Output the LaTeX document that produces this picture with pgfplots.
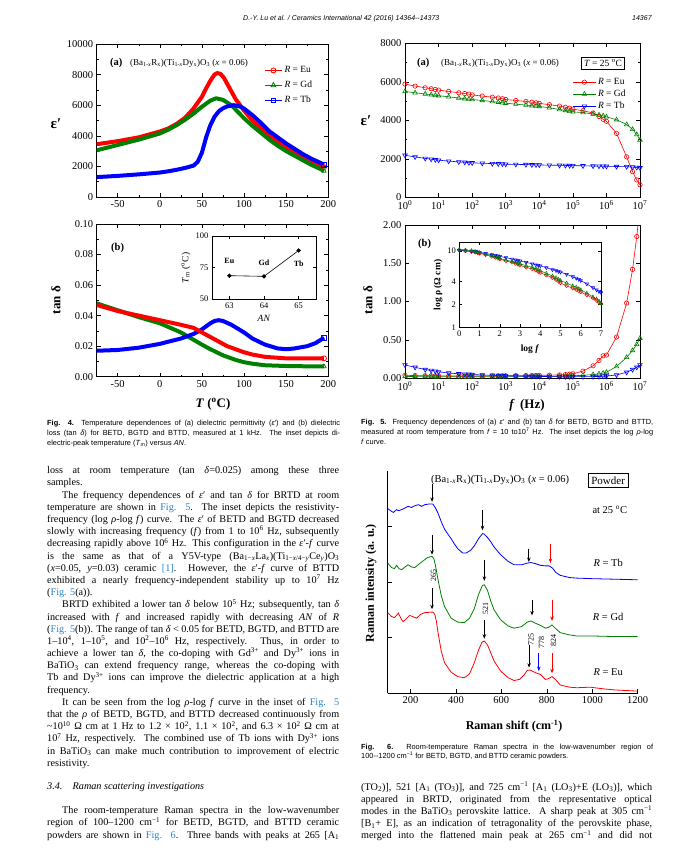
\documentclass[border=0pt]{standalone}
\usepackage{fontspec}
\setmainfont{Liberation Serif}
\newfontfamily\capfont{Liberation Sans}
\usepackage{pgfplots}
\pgfplotsset{compat=1.18}
\usepackage{pgfplotstable}
\usetikzlibrary{arrows.meta}

\definecolor{linkblue}{RGB}{40,130,200}
\definecolor{dgreen}{RGB}{0,128,0}

\newcommand{\body}{\fontsize{10.2}{11}\selectfont}
\newcommand{\capf}{\capfont\fontsize{7.4}{8}\selectfont}
\newcommand{\tickf}{\fontsize{10.5}{10.5}\selectfont}
\newcommand{\TJ}[4]{\node[anchor=base west,inner sep=0pt] at (#1pt,-#2pt) {\hbox to #3pt{#4}};}
\newcommand{\TL}[3]{\node[anchor=base west,inner sep=0pt] at (#1pt,-#2pt) {#3};}
\newcommand{\formula}{(Ba\textsubscript{1-\textit{x}}R\textsubscript{x})(Ti\textsubscript{1-\textit{x}}Dy\textsubscript{x})O\textsubscript{3} (\textit{x} = 0.06)}

\pgfplotsset{
  pagefig/.style={scale only axis, tick align=inside,
    major tick length=4pt, minor tick length=2pt,
    every tick/.style={black, line width=0.5pt},
    axis line style={line width=0.7pt},
    tick label style={font=\tickf},
    scaled ticks=false,
    /pgf/number format/assume math mode=true,
    /pgf/number format/1000 sep={}},
  fat/.style={line width=4pt, line join=round, mark options={solid, fill=white, line width=0.8pt}, mark size=2.5pt},
  thin/.style={line width=0.6pt, mark size=2.2pt, mark options={solid, fill=white, line width=0.6pt}},
}

% Fig. 5 data
\pgfplotstableread{
f     eu    gd    tb
1     5880  5500  2180
2     5780  5430  2100
4     5690  5370  2020
6     5640  5330  1980
8     5600  5300  1950
10    5570  5280  1930
20    5500  5220  1880
40    5430  5160  1840
60    5390  5120  1820
80    5360  5100  1800
100   5320  5080  1790
200   5260  5030  1770
400   5200  4970  1750
600   5160  4940  1740
800   5120  4910  1730
1e3   5080  4890  1720
2e3   5030  4840  1710
4e3   4980  4790  1700
6e3   4940  4760  1690
8e3   4910  4740  1685
1e4   4880  4720  1680
2e4   4810  4650  1670
4e4   4740  4560  1660
6e4   4680  4510  1655
8e4   4630  4470  1650
1e5   4580  4440  1645
2e5   4500  4400  1635
4e5   4380  4330  1625
6e5   4200  4280  1620
8e5   4050  4230  1615
1e6   3950  4180  1610
2e6   3320  4030  1600
4e6   2100  3780  1590
6e6   1330  3530  1570
8e6   900   3260  1550
1e7   650   2980  1530
}\epsf

\pgfplotstableread{
f     eu     gd     tb
1     0.035  0.020  0.170
2     0.032  0.019  0.140
4     0.030  0.018  0.110
6     0.030  0.018  0.100
8     0.029  0.017  0.090
10    0.028  0.017  0.080
20    0.027  0.016  0.065
40    0.026  0.016  0.055
60    0.026  0.016  0.050
80    0.026  0.016  0.048
100   0.026  0.016  0.045
200   0.027  0.016  0.040
400   0.028  0.016  0.035
600   0.029  0.017  0.032
800   0.030  0.017  0.030
1e3   0.030  0.017  0.028
2e3   0.031  0.018  0.025
4e3   0.032  0.018  0.023
6e3   0.033  0.019  0.022
8e3   0.034  0.019  0.021
1e4   0.035  0.020  0.020
2e4   0.037  0.021  0.019
4e4   0.040  0.023  0.019
6e4   0.045  0.025  0.018
8e4   0.050  0.027  0.018
1e5   0.055  0.030  0.018
2e5   0.090  0.035  0.018
4e5   0.160  0.045  0.019
6e5   0.230  0.055  0.020
8e5   0.290  0.065  0.022
1e6   0.300  0.075  0.025
2e6   0.535  0.150  0.040
4e6   0.980  0.270  0.075
6e6   1.420  0.360  0.110
8e6   1.850  0.440  0.140
1e7   2.250  0.520  0.170
}\tanf

\pgfplotstableread{
lf     eu     gd     tb
0      10.3   10.5   10.2
0.301  10.0   10.3   10.1
0.602  9.8    10.1   9.95
0.778  9.6    9.9    9.85
0.903  9.45   9.7    9.7
1      9.3    9.5    9.6
1.301  8.9    9.1    9.3
1.602  8.5    8.7    8.95
1.778  8.2    8.4    8.75
1.903  8.0    8.2    8.6
2      7.8    8.0    8.5
2.301  7.4    7.6    8.2
2.602  7.1    7.3    7.85
2.778  6.85   7.1    7.65
2.903  6.65   6.9    7.5
3      6.5    6.8    7.4
3.301  6.1    6.4    7.1
3.602  5.8    6.1    6.8
3.778  5.6    5.9    6.6
3.903  5.35   5.7    6.5
4      5.2    5.5    6.4
4.301  4.8    5.1    6.05
4.602  4.45   4.7    5.7
4.778  4.2    4.45   5.55
4.903  4.0    4.25   5.4
5      3.8    4.1    5.3
5.301  3.5    3.8    4.95
5.602  3.25   3.5    4.6
5.778  3.1    3.35   4.4
5.903  3.0    3.2    4.25
6      2.9    3.1    4.1
6.301  2.65   2.8    3.7
6.602  2.4    2.5    3.3
6.778  2.25   2.35   3.1
6.903  2.12   2.2    2.95
7      2.05   2.05   2.85
}\rhof

\begin{document}
\begin{tikzpicture}
\path[use as bounding box] (0pt,0pt) rectangle (688pt,-861pt);

% running head
\node[anchor=base west,inner sep=0pt,font=\capfont\itshape\fontsize{7}{8}\selectfont] at (243pt,-21pt) {D.-Y. Lu et al. / Ceramics International 42 (2016) 14364--14373};
\node[anchor=base west,inner sep=0pt,font=\capfont\itshape\fontsize{7}{8}\selectfont] at (632pt,-21pt) {14367};

% ---------- Fig. 4(a)
\begin{axis}[pagefig, at={(96.7pt,-197pt)}, anchor=south west, width=231.5pt, height=153pt,
  xmin=-75, xmax=200, ymin=0, ymax=10000,
  xtick={-50,0,50,100,150,200}, ytick={0,2000,4000,6000,8000,10000},
  minor x tick num=1, minor y tick num=1,
  legend style={at={(0.71,0.88)}, anchor=north west, draw=none, fill=none,
    font=\fontsize{9.5}{9.5}\selectfont, row sep=3pt}, legend cell align=left]
\addlegendimage{red, line width=1.2pt, mark=o, mark size=2.5pt, mark options={fill=white, line width=0.8pt}}
\addlegendentry{\textit{R} = Eu}
\addlegendimage{dgreen, line width=1.2pt, mark=triangle, mark size=2.8pt, mark options={fill=white, line width=0.8pt}}
\addlegendentry{\textit{R} = Gd}
\addlegendimage{blue, line width=1.2pt, mark=square, mark size=2.3pt, mark options={fill=white, line width=0.8pt}}
\addlegendentry{\textit{R} = Tb}
\addplot[red, fat, mark=o, mark indices={29}, forget plot] coordinates {
(-75,3450)(-50,3650)(-25,3900)(0,4280)(10,4480)(20,4780)(30,5180)(40,5780)(50,6550)(55,7100)
(60,7600)(65,8000)(68,8100)(72,8050)(76,7800)(80,7400)(85,6900)(90,6400)(100,5650)(110,5000)
(120,4500)(130,4050)(140,3600)(150,3250)(160,2950)(170,2650)(180,2350)(190,2100)(195,1950)};
\addplot[dgreen, fat, mark=triangle, mark indices={24}, forget plot] coordinates {
(-75,3050)(-50,3400)(-25,3750)(0,4150)(10,4400)(20,4700)(30,5050)(40,5450)(50,5900)(60,6300)
(67,6450)(75,6350)(85,6000)(100,5150)(110,4650)(120,4200)(130,3750)(140,3350)(150,3000)(160,2700)
(170,2400)(180,2100)(190,1850)(195,1700)};
\addplot[blue, fat, mark=square, mark indices={29}, forget plot] coordinates {
(-75,1300)(-50,1380)(-25,1480)(0,1600)(10,1680)(20,1780)(30,1900)(40,2050)(45,2300)(50,2900)
(55,3900)(60,4700)(65,5250)(70,5600)(75,5800)(80,5920)(88,6000)(95,5920)(100,5780)(110,5350)
(120,4850)(130,4300)(140,3900)(150,3500)(160,3150)(170,2800)(180,2500)(190,2250)(195,2120)};
\end{axis}
\node[anchor=base west,font=\bfseries\fontsize{10.5}{11}\selectfont,inner sep=0pt] at (110pt,-66pt) {(a)};
\node[anchor=base west,font=\fontsize{9}{10}\selectfont,inner sep=0pt] at (130pt,-66pt) {\formula};
\node[font=\bfseries\fontsize{15}{15}\selectfont] at (56pt,-124pt) {ε′};

% ---------- Fig. 4(b)
\begin{axis}[pagefig, at={(96.7pt,-376.7pt)}, anchor=south west, width=231.5pt, height=152.7pt,
  xmin=-75, xmax=200, ymin=0, ymax=0.10,
  xtick={-50,0,50,100,150,200}, ytick={0,0.02,0.04,0.06,0.08,0.10},
  minor x tick num=1, minor y tick num=1,
  yticklabel style={/pgf/number format/.cd, fixed, fixed zerofill, precision=2}]
\addplot[dgreen, fat, mark=triangle, mark indices={15}] coordinates {
(-75,0.048)(-50,0.0435)(-25,0.039)(0,0.035)(25,0.029)(50,0.021)(60,0.018)(75,0.014)(90,0.011)
(100,0.0095)(110,0.0085)(125,0.0075)(150,0.007)(175,0.0068)(195,0.0067)};
\addplot[blue, fat, mark=square, mark indices={21}] coordinates {
(-75,0.017)(-50,0.0175)(-25,0.019)(0,0.0215)(25,0.025)(40,0.028)(50,0.031)(60,0.035)(65,0.0365)
(70,0.037)(75,0.0365)(85,0.034)(100,0.029)(110,0.025)(125,0.021)(140,0.0185)(150,0.018)
(160,0.0185)(175,0.020)(185,0.022)(195,0.0255)};
\addplot[red, fat, mark=o, mark indices={17}] coordinates {
(-75,0.047)(-50,0.043)(-25,0.040)(0,0.037)(25,0.034)(40,0.032)(50,0.029)(60,0.026)(70,0.023)
(80,0.020)(90,0.018)(100,0.016)(110,0.0145)(125,0.013)(150,0.012)(175,0.012)(195,0.012)};
\end{axis}
\node[anchor=base west,font=\bfseries\fontsize{10.5}{11}\selectfont,inner sep=0pt] at (111pt,-250pt) {(b)};
\node[font=\bfseries\fontsize{13}{13}\selectfont, rotate=90] at (56pt,-300pt) {tan δ};
\node[font=\bfseries\fontsize{13}{13}\selectfont] at (213pt,-404pt) {\textit{T} (\textsuperscript{o}C)};

% inset of Fig. 4(b)
\begin{axis}[pagefig, at={(212pt,-299pt)}, anchor=south west, width=104pt, height=63pt,
  axis background/.style={fill=white},
  xmin=62.5, xmax=65.5, ymin=50, ymax=100, xtick={63,64,65}, ytick={50,75,100},
  major tick length=3pt, tick label style={font=\fontsize{8.5}{9}\selectfont}]
\addplot[black, line width=0.6pt, mark=*, mark size=1.8pt] coordinates {(63,68.5)(64,68)(65,88.5)};
\node[font=\bfseries\fontsize{8}{8}\selectfont] at (axis cs:63,80) {Eu};
\node[font=\bfseries\fontsize{8}{8}\selectfont] at (axis cs:64,79) {Gd};
\node[font=\bfseries\fontsize{8}{8}\selectfont] at (axis cs:65,78) {Tb};
\end{axis}
\node[font=\fontsize{9.5}{10}\selectfont, rotate=90] at (186pt,-268pt) {\textit{T}\textsubscript{m} (\textsuperscript{o}C)};
\node[font=\fontsize{9.5}{10}\selectfont] at (264pt,-318pt) {\textit{AN}};

% ---------- Fig. 5(a)
\begin{axis}[pagefig, at={(405pt,-197.3pt)}, anchor=south west, width=235pt, height=154pt,
  xmode=log, xmin=1, xmax=1e7, ymin=0, ymax=8000,
  xtick={1,10,100,1000,10000,100000,1000000,10000000},
  xticklabels={10\textsuperscript{0},10\textsuperscript{1},10\textsuperscript{2},10\textsuperscript{3},10\textsuperscript{4},10\textsuperscript{5},10\textsuperscript{6},10\textsuperscript{7}},
  xminorticks=false, ytick={0,2000,4000,6000,8000}, minor y tick num=1,
  legend style={at={(0.70,0.80)}, anchor=north west, draw=none, fill=none,
    font=\fontsize{9.5}{9.5}\selectfont, row sep=0pt}, legend cell align=left,
  legend image code/.code={\draw[mark repeat=2,mark phase=2,#1] plot coordinates {(0cm,0cm) (0.4cm,0cm) (0.8cm,0cm)};}]
\addplot[red, thin, mark=o] table[x=f, y=eu] {\epsf};
\addlegendentry{\textit{R} = Eu}
\addplot[dgreen, thin, mark=triangle, mark size=2.6pt] table[x=f, y=gd] {\epsf};
\addlegendentry{\textit{R} = Gd}
\addplot[blue, thin, mark=triangle, mark size=2.6pt, mark options={rotate=180}] table[x=f, y=tb] {\epsf};
\addlegendentry{\textit{R} = Tb}
\end{axis}
\node[anchor=base west,font=\bfseries\fontsize{10.5}{11}\selectfont,inner sep=0pt] at (417pt,-66pt) {(a)};
\node[anchor=base west,font=\fontsize{9}{10}\selectfont,inner sep=0pt] at (441pt,-66pt) {\formula};
\node[draw, line width=0.9pt, inner sep=2.5pt, font=\fontsize{9.5}{10}\selectfont] at (603pt,-63pt) {\textit{T} = 25 \textsuperscript{o}C};
\node[font=\bfseries\fontsize{15}{15}\selectfont] at (366pt,-121pt) {ε′};

% ---------- Fig. 5(b)
\begin{axis}[pagefig, at={(405pt,-378pt)}, anchor=south west, width=235pt, height=153pt,
  xmode=log, xmin=1, xmax=1e7, ymin=0, ymax=2,
  xtick={1,10,100,1000,10000,100000,1000000,10000000},
  xticklabels={10\textsuperscript{0},10\textsuperscript{1},10\textsuperscript{2},10\textsuperscript{3},10\textsuperscript{4},10\textsuperscript{5},10\textsuperscript{6},10\textsuperscript{7}},
  xminorticks=false, ytick={0,0.5,1,1.5,2},
  yticklabel style={/pgf/number format/.cd, fixed, fixed zerofill, precision=2}]
\addplot[red, thin, mark=o] table[x=f, y=eu] {\tanf};
\addplot[dgreen, thin, mark=triangle, mark size=2.6pt] table[x=f, y=gd] {\tanf};
\addplot[blue, thin, mark=triangle, mark size=2.6pt, mark options={rotate=180}] table[x=f, y=tb] {\tanf};
\end{axis}
\node[anchor=base west,font=\bfseries\fontsize{10.5}{11}\selectfont,inner sep=0pt] at (418pt,-246pt) {(b)};
\node[font=\bfseries\fontsize{13}{13}\selectfont, rotate=90] at (368pt,-300pt) {tan δ};
\node[font=\bfseries\fontsize{13}{13}\selectfont] at (527pt,-405pt) {\textit{f} \,(Hz)};

% inset of Fig. 5(b)
\begin{axis}[pagefig, at={(459.3pt,-327.3pt)}, anchor=south west, width=141.7pt, height=85pt,
  axis background/.style={fill=white},
  xmin=0, xmax=7, ymode=log, ymin=1, ymax=13, xtick={0,1,...,7},
  ytick={1,2,4,10}, yticklabels={1,2,4,10}, yminorticks=false,
  major tick length=3pt, tick label style={font=\fontsize{8.5}{9}\selectfont}]
\addplot[red, line width=0.5pt, mark=o, mark size=1.8pt, mark options={fill=white}] table[x=lf, y=eu] {\rhof};
\addplot[blue, line width=0.5pt, mark=triangle, mark size=2pt, mark options={fill=white, rotate=180}] table[x=lf, y=tb] {\rhof};
\addplot[dgreen, line width=0.5pt, mark=triangle, mark size=2pt, mark options={fill=white}] table[x=lf, y=gd] {\rhof};
\end{axis}
\node[font=\bfseries\fontsize{9.5}{10}\selectfont, rotate=90] at (438pt,-285pt) {log ρ (Ω cm)};
\node[font=\bfseries\fontsize{9.5}{10}\selectfont] at (530pt,-349pt) {log \textit{f}};

% ---------- Fig. 6
\begin{axis}[pagefig, at={(387.7pt,-693.3pt)}, anchor=south west, width=250pt, height=222.6pt,
  axis x line*=bottom, axis y line*=left, clip=false,
  xmin=100, xmax=1200, ymin=0, ymax=4,
  xtick={200,400,600,800,1000,1200}, ytick={1,2,3}, yticklabels={},
  tick label style={font=\fontsize{10.5}{11}\selectfont}]
\addplot[red, line width=0.8pt] coordinates {
(100,1.45)(117,1.38)(130,1.36)(147,1.44)(160,1.33)(168,1.29)(180,1.33)(197,1.40)(215,1.37)(227,1.35)
(245,1.42)(263,1.45)(299,1.46)(307,1.42)(314,1.3)(321,1.1)(336,0.75)(350,0.55)(379,0.38)(408,0.3)
(437,0.28)(460,0.35)(481,0.55)(500,0.78)(515,0.92)(525,0.94)(539,0.87)(554,0.72)(568,0.58)(597,0.40)
(630,0.28)(656,0.23)(680,0.25)(700,0.33)(714,0.41)(725,0.42)(740,0.39)(757,0.36)(772,0.34)(794,0.25)
(805,0.26)(823,0.30)(840,0.24)(859,0.15)(900,0.11)(932,0.10)(990,0.11)(1050,0.08)(1100,0.06)(1200,0.04)};
\addplot[dgreen, line width=0.8pt] coordinates {
(100,2.34)(117,2.26)(130,2.24)(139,2.30)(150,2.24)(161,2.22)(176,2.27)(190,2.31)(205,2.27)(219,2.26)
(240,2.33)(256,2.38)(275,2.44)(295,2.46)(303,2.42)(310,2.30)(321,2.05)(336,1.75)(350,1.56)(379,1.35)
(408,1.28)(437,1.27)(460,1.35)(481,1.52)(500,1.78)(517,1.94)(525,1.95)(539,1.85)(554,1.65)(568,1.50)
(597,1.32)(630,1.21)(656,1.17)(690,1.20)(714,1.28)(730,1.30)(750,1.26)(772,1.22)(794,1.17)(810,1.19)
(823,1.23)(840,1.16)(859,1.09)(900,1.05)(932,1.03)(1000,1.03)(1100,1.02)(1200,1.02)};
\addplot[blue, line width=0.8pt] coordinates {
(100,3.32)(117,3.27)(125,3.25)(139,3.30)(147,3.28)(161,3.30)(176,3.33)(190,3.36)(205,3.34)(219,3.37)
(235,3.39)(250,3.36)(263,3.39)(280,3.40)(299,3.40)(310,3.33)(321,3.24)(336,3.08)(350,2.95)(365,2.86)
(379,2.78)(394,2.68)(408,2.60)(430,2.52)(445,2.52)(465,2.57)(481,2.65)(500,2.78)(517,2.87)(525,2.86)
(539,2.80)(554,2.72)(568,2.63)(597,2.49)(630,2.37)(656,2.31)(690,2.31)(714,2.34)(730,2.35)(750,2.33)
(772,2.30)(794,2.29)(810,2.29)(825,2.25)(840,2.17)(859,2.12)(900,2.08)(932,2.07)(1000,2.06)(1100,2.05)(1200,2.04)};
% peak arrows
\begin{scope}[line width=0.8pt, -{Stealth[length=4.5pt,width=3.5pt]}]
\draw (axis cs:295,3.77) -- (axis cs:295,3.44);
\draw (axis cs:517,3.29) -- (axis cs:517,2.93);
\draw (axis cs:721,2.60) -- (axis cs:721,2.36);
\draw[red] (axis cs:816,2.69) -- (axis cs:816,2.34);
\draw (axis cs:295,2.84) -- (axis cs:295,2.49);
\draw (axis cs:525,2.40) -- (axis cs:525,2.02);
\draw (axis cs:735,1.68) -- (axis cs:735,1.40);
\draw[red] (axis cs:823,1.68) -- (axis cs:823,1.30);
\draw (axis cs:295,1.89) -- (axis cs:295,1.51);
\draw (axis cs:525,1.32) -- (axis cs:525,0.98);
\draw (axis cs:722,0.87) -- (axis cs:722,0.46);
\draw[blue] (axis cs:765,0.72) -- (axis cs:765,0.40);
\draw[red] (axis cs:823,0.72) -- (axis cs:823,0.36);
\end{scope}
\node[rotate=90, font=\fontsize{8}{8}\selectfont] at (axis cs:302,2.12) {265};
\node[rotate=90, font=\fontsize{8}{8}\selectfont] at (axis cs:530,1.52) {521};
\node[rotate=90, font=\fontsize{8}{8}\selectfont] at (axis cs:730,0.97) {725};
\node[rotate=90, font=\fontsize{8}{8}\selectfont] at (axis cs:777,0.92) {778};
\node[rotate=90, font=\fontsize{8}{8}\selectfont] at (axis cs:830,0.95) {824};
\node[anchor=west, font=\fontsize{10.5}{11}\selectfont, inner sep=0pt] at (axis cs:290,3.84) {(Ba\textsubscript{1-\textit{x}}R\textsubscript{x})(Ti\textsubscript{1-\textit{x}}Dy\textsubscript{x})O\textsubscript{3} (\textit{x} = 0.06)};
\node[draw, line width=0.8pt, inner sep=3pt, font=\fontsize{11}{11}\selectfont] at (axis cs:1070,3.82) {Powder};
\node[font=\fontsize{10.5}{11}\selectfont] at (axis cs:1077,3.29) {at 25 \textsuperscript{o}C};
\node[font=\fontsize{10.5}{11}\selectfont] at (axis cs:1070,2.35) {\textit{R} = Tb};
\node[font=\fontsize{10.5}{11}\selectfont] at (axis cs:1070,1.38) {\textit{R} = Gd};
\node[font=\fontsize{10.5}{11}\selectfont] at (axis cs:1070,0.38) {\textit{R} = Eu};
\end{axis}
\node[font=\bfseries\fontsize{12}{12}\selectfont, rotate=90] at (371pt,-583pt) {Raman intensity (a. u.)};
\node[font=\bfseries\fontsize{12}{12}\selectfont] at (514pt,-726pt) {Raman shift (cm\textsuperscript{-1})};

% ---------- captions
\begin{scope}[font=\capf]
\TJ{47}{425}{293}{\textbf{Fig. 4.} Temperature dependences of (a) dielectric permittivity (\textit{ε}′) and (b) dielectric}
\TJ{47}{435}{293}{loss (tan \textit{δ}) for BETD, BGTD and BTTD, measured at 1 kHz. The inset depicts di-}
\TL{47}{445}{electric-peak temperature (\textit{T}\textsubscript{m}) versus \textit{AN}.}
\TJ{361}{424.5}{292}{\textbf{Fig. 5.} Frequency dependences of (a) \textit{ε}′ and (b) tan \textit{δ} for BETD, BGTD and BTTD,}
\TJ{361}{434.5}{292}{measured at room temperature from \textit{f} = 10 to10\textsuperscript{7} Hz. The inset depicts the log \textit{ρ}-log}
\TL{361}{444.5}{\textit{f} curve.}
\TJ{361}{749}{292}{\textbf{Fig. 6.} Room-temperature Raman spectra in the low-wavenumber region of}
\TL{361}{758.5}{100--1200 cm\textsuperscript{−1} for BETD, BGTD, and BTTD ceramic powders.}
\end{scope}

% ---------- body text
\begin{scope}[font=\body]
\TJ{47}{473.7}{292}{loss at room temperature (tan \textit{δ}=0.025) among these three}
\TL{47}{485.9}{samples.}
\TJ{62}{498.1}{277}{The frequency dependences of \textit{ε}′ and tan \textit{δ} for BRTD at room}
\TJ{47}{510.3}{292}{temperature are shown in \textcolor{linkblue}{Fig. 5}. The inset depicts the resistivity-}
\TJ{47}{522.5}{292}{frequency (log \textit{ρ}-log \textit{f}) curve. The \textit{ε}′ of BETD and BGTD decreased}
\TJ{47}{534.6}{292}{slowly with increasing frequency (\textit{f}) from 1 to 10\textsuperscript{6} Hz, subsequently}
\TJ{47}{546.8}{292}{decreasing rapidly above 10\textsuperscript{6} Hz. This configuration in the \textit{ε}′-\textit{f} curve}
\TJ{47}{559.0}{292}{is the same as that of a Y5V-type (Ba\textsubscript{1−\textit{x}}La\textsubscript{\textit{x}})(Ti\textsubscript{1−\textit{x}/4−\textit{y}}Ce\textsubscript{\textit{y}})O\textsubscript{3}}
\TJ{47}{571.2}{292}{(\textit{x}=0.05, \textit{y}=0.03) ceramic \textcolor{linkblue}{[1]}. However, the \textit{ε}′-\textit{f} curve of BTTD}
\TJ{47}{583.4}{292}{exhibited a nearly frequency-independent stability up to 10\textsuperscript{7} Hz}
\TL{47}{595.6}{(\textcolor{linkblue}{Fig. 5}(a)).}
\TJ{62}{607.8}{277}{BRTD exhibited a lower tan \textit{δ} below 10\textsuperscript{5} Hz; subsequently, tan \textit{δ}}
\TJ{47}{620.0}{292}{increased with \textit{f} and increased rapidly with decreasing \textit{AN} of \textit{R}}
\TJ{47}{632.2}{292}{(\textcolor{linkblue}{Fig. 5}(b)). The range of tan \textit{δ} < 0.05 for BETD, BGTD, and BTTD are}
\TJ{47}{644.4}{292}{1--10\textsuperscript{4}, 1--10\textsuperscript{5}, and 10\textsuperscript{2}--10\textsuperscript{6} Hz, respectively. Thus, in order to}
\TJ{47}{656.6}{292}{achieve a lower tan \textit{δ}, the co-doping with Gd\textsuperscript{3+} and Dy\textsuperscript{3+} ions in}
\TJ{47}{668.7}{292}{BaTiO\textsubscript{3} can extend frequency range, whereas the co-doping with}
\TJ{47}{680.9}{292}{Tb and Dy\textsuperscript{3+} ions can improve the dielectric application at a high}
\TL{47}{693.1}{frequency.}
\TJ{62}{705.3}{277}{It can be seen from the log \textit{ρ}-log \textit{f} curve in the inset of \textcolor{linkblue}{Fig. 5}}
\TJ{47}{717.5}{292}{that the \textit{ρ} of BETD, BGTD, and BTTD decreased continuously from}
\TJ{47}{729.7}{292}{\textasciitilde 10\textsuperscript{10} Ω cm at 1 Hz to 1.2 × 10\textsuperscript{2}, 1.1 × 10\textsuperscript{2}, and 6.3 × 10\textsuperscript{2} Ω cm at}
\TJ{47}{741.9}{292}{10\textsuperscript{7} Hz, respectively. The combined use of Tb ions with Dy\textsuperscript{3+} ions}
\TJ{47}{754.1}{292}{in BaTiO\textsubscript{3} can make much contribution to improvement of electric}
\TL{47}{766.3}{resistivity.}
\TL{47}{789}{\textit{3.4.\quad Raman scattering investigations}}
\TJ{62}{813.7}{277}{The room-temperature Raman spectra in the low-wavenumber}
\TJ{47}{825.9}{292}{region of 100--1200 cm\textsuperscript{−1} for BETD, BGTD, and BTTD ceramic}
\TJ{47}{838.1}{292}{powders are shown in \textcolor{linkblue}{Fig. 6}. Three bands with peaks at 265 [A\textsubscript{1}}
\TJ{361}{790}{291}{(TO\textsubscript{2})], 521 [A\textsubscript{1} (TO\textsubscript{3})], and 725 cm\textsuperscript{−1} [A\textsubscript{1} (LO\textsubscript{3})+E (LO\textsubscript{3})], which}
\TJ{361}{802.2}{291}{appeared in BRTD, originated from the representative optical}
\TJ{361}{814.4}{291}{modes in the BaTiO\textsubscript{3} perovskite lattice. A sharp peak at 305 cm\textsuperscript{−1}}
\TJ{361}{826.6}{291}{[B\textsubscript{1}+ E], as an indication of tetragonality of the perovskite phase,}
\TJ{361}{838.8}{291}{merged into the flattened main peak at 265 cm\textsuperscript{−1} and did not}
\end{scope}
\end{tikzpicture}
\end{document}
